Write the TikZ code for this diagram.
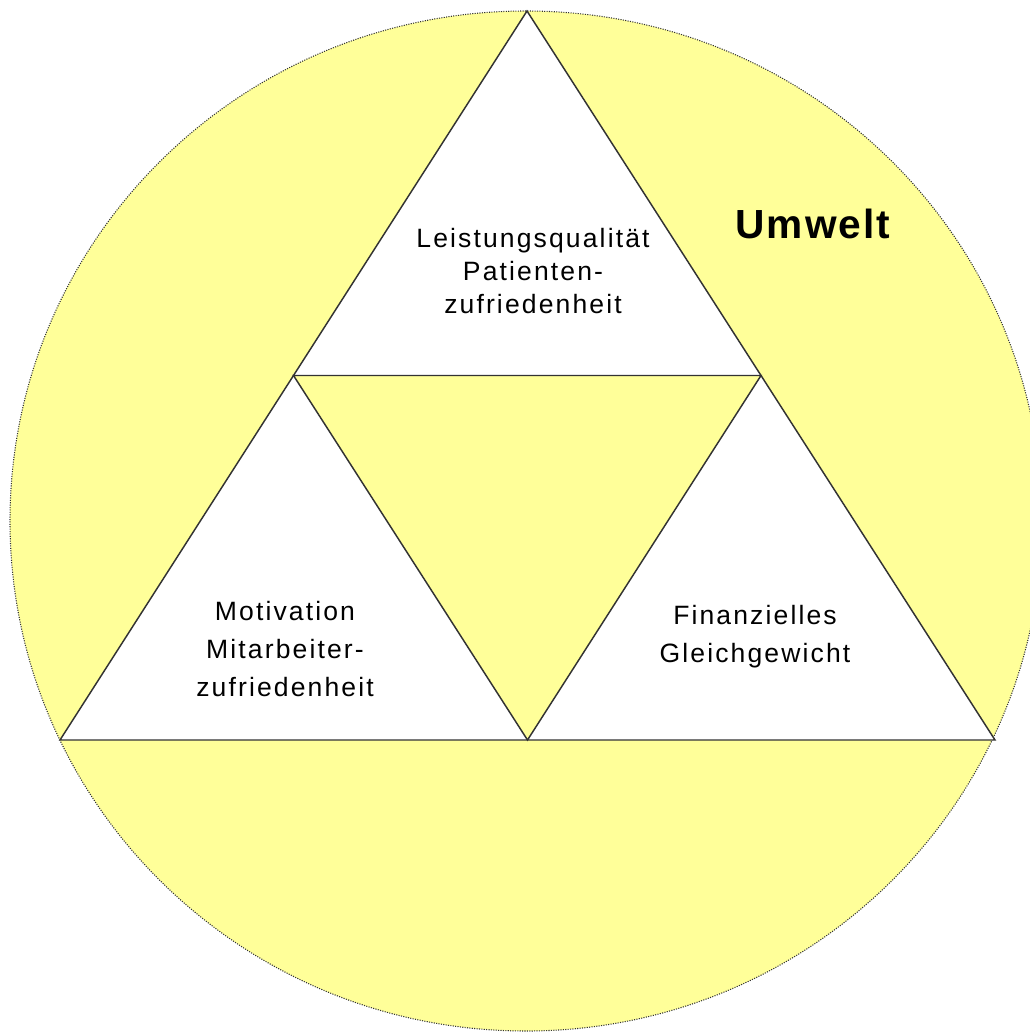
\documentclass[tikz,border=0pt]{standalone}
\usepackage{fontspec}
\usepackage{xcolor}
\usepackage{tikz}
\usetikzlibrary{positioning, calc}
\newfontfamily\labelfont{Liberation Sans}[LetterSpace=8]
\newfontfamily\envfont{Liberation Sans}[LetterSpace=5]
\definecolor{umweltYellow}{HTML}{FFFF99}
\definecolor{edgeGray}{HTML}{333333}

\begin{document}
\begin{tikzpicture}[
  x=0.75pt, y=-0.75pt,
  every node/.style={font=\labelfont},
  triedge/.style={draw=edgeGray, line width=1.1pt, line join=miter},
  goal/.style={
    align=center, text=black,
    font=\labelfont\fontsize{19.9}{28.5}\selectfont
  },
  envlabel/.style={
    text=black, font=\envfont\bfseries\fontsize{30.5}{36}\selectfont
  },
]

% === Frame ===
\useasboundingbox (0,0) rectangle (1030,1035);
\clip (0,0) rectangle (1030,1035);

% === Environment circle ===
\fill[umweltYellow] (526,521) ellipse [x radius=516, y radius=510];
\draw[edgeGray, line width=0.8pt, densely dotted] (526,521) ellipse [x radius=516, y radius=510];

% === Triangle corners ===
\coordinate (top) at (527,11);
\coordinate (left) at (60,740);
\coordinate (right) at (995,740);
\coordinate (midL) at ($(top)!0.5!(left)$);
\coordinate (midR) at ($(top)!0.5!(right)$);
\coordinate (midB) at ($(left)!0.5!(right)$);

% === Triangles ===
\draw[triedge, fill=white] (top) -- (left) -- (right) -- cycle;
\draw[triedge, fill=umweltYellow] (midL) -- (midR) -- (midB) -- cycle;

% === Labels ===
\node[goal, font=\labelfont\fontsize{19.9}{24.75}\selectfont] (quality) at (533,271)
  {Leistungsqualität\\Patienten-\\zufriedenheit};
\node[goal] (motivation) at (285,649)
  {Motivation\\Mitarbeiter-\\zufriedenheit};
\node[goal] (finance) at (755,637)
  {Finanzielles\\Gleichgewicht};
\node[envlabel, anchor=base] (umwelt) at (813,238) {Umwelt};

\end{tikzpicture}
\end{document}
